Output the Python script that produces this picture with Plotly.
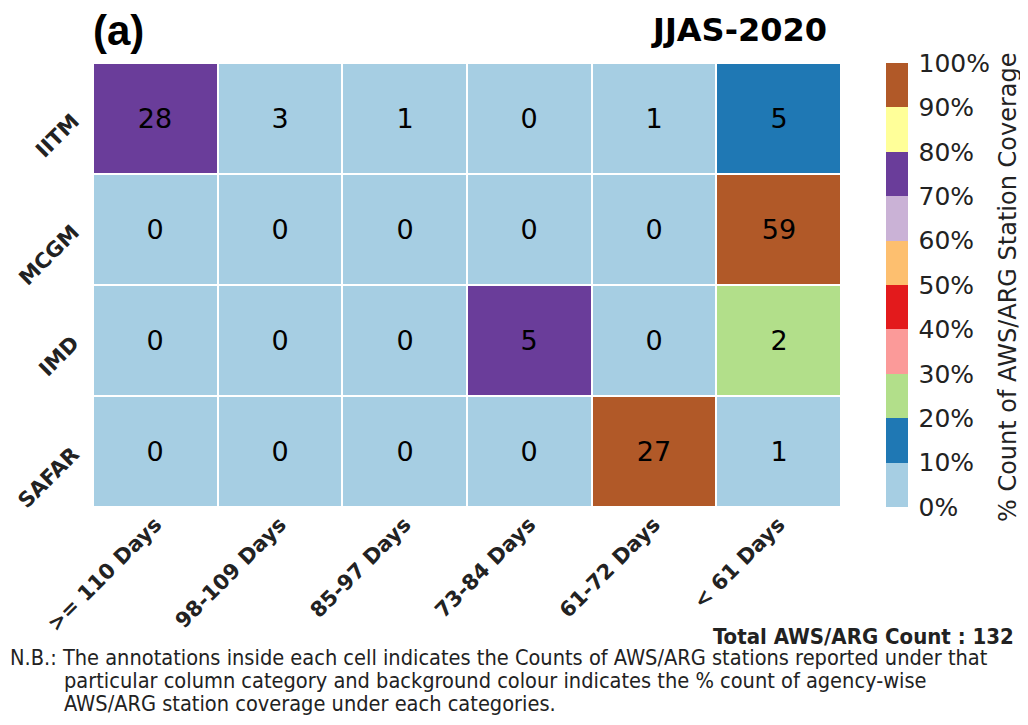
import plotly.graph_objects as go

agencies = ["IITM", "MCGM", "IMD", "SAFAR"]
day_bins = [">= 110 Days", "98-109 Days", "85-97 Days", "73-84 Days", "61-72 Days", "< 61 Days"]

iitm = [28, 3, 1, 0, 1, 5]
mcgm = [0, 0, 0, 0, 0, 59]
imd = [0, 0, 0, 5, 0, 2]
safar = [0, 0, 0, 0, 27, 1]
counts = [iitm, mcgm, imd, safar]

bin_colors = ["#a6cee3", "#1f78b4", "#b2df8a", "#fb9a99", "#e31a1c",
              "#fdbf6f", "#cab2d6", "#6a3d9a", "#ffff99", "#b15928"]
bar_ticks = [0, 10, 20, 30, 40, 50, 60, 70, 80, 90, 100]

note_lines = [
    "N.B.: The annotations inside each cell indicates the Counts of AWS/ARG stations reported under that",
    "particular column category and background colour indicates the % count of agency-wise",
    "AWS/ARG station coverage under each categories.",
]

# row-wise percentage coverage drives the colour
pct = [[100.0 * c / sum(row) for c in row] for row in counts]

# stepped colourscale, one flat band per 10%
scale = []
n = len(bin_colors)
for i, col in enumerate(bin_colors):
    scale.append([i / n, col])
    scale.append([(i + 1) / n, col])

W, H = 1028, 725
OFF = 8  # page body margin


def px(x):
    return (x - OFF) / W


def py(y):
    return 1 - (y - OFF) / H


fig = go.Figure(go.Heatmap(
    z=pct,
    x=day_bins,
    y=agencies,
    text=counts,
    texttemplate="%{text}",
    textfont=dict(family="DejaVu Sans", size=27, color="black"),
    colorscale=scale,
    zmin=0, zmax=100,
    xgap=2, ygap=2,
    hoverinfo="skip",
    colorbar=dict(
        x=px(886), xanchor="left", xpad=0,
        y=py(63), yanchor="top", ypad=0,
        len=444 / H, lenmode="fraction",
        thickness=22, outlinewidth=0,
        tickmode="array", tickvals=bar_ticks,
        ticktext=[f"{t}%" for t in bar_ticks],
        ticks="outside", ticklen=6, tickcolor="rgba(0,0,0,0)",
        tickfont=dict(family="DejaVu Sans", size=25, color="#222"),
    ),
))

note_y = [657, 680, 703]
note_x = [8, 62, 62]
annotations = [
    dict(text="<b>(a)</b>", x=px(91), y=py(30), xanchor="left", yanchor="middle",
         font=dict(family="Liberation Sans", size=42, color="black")),
    dict(text="<b>JJAS-2020</b>", x=px(829), y=py(30), xanchor="right", yanchor="middle",
         font=dict(family="DejaVu Sans", size=32, color="black")),
    dict(text="% Count of AWS/ARG Station Coverage", x=px(1008), y=py(287),
         xanchor="center", yanchor="middle", textangle=-90,
         font=dict(family="DejaVu Sans", size=24, color="#222")),
    dict(text="<b>Total AWS/ARG Count : 132</b>", x=px(1016), y=py(636),
         xanchor="right", yanchor="middle",
         font=dict(family="DejaVu Sans Condensed", size=22, color="#222")),
]
for line, lx, ly in zip(note_lines, note_x, note_y):
    annotations.append(dict(text=line, x=px(lx), y=py(ly), xanchor="left", yanchor="middle",
                            font=dict(family="DejaVu Sans Condensed", size=21.6, color="#222")))
for a in annotations:
    a.update(xref="paper", yref="paper", showarrow=False)

fig.update_layout(
    width=W, height=H,
    margin=dict(l=0, r=0, t=0, b=0, autoexpand=False),
    paper_bgcolor="white", plot_bgcolor="white",
    xaxis=dict(domain=[px(93), px(841)], tickangle=-45, showgrid=False, automargin=False,
               tickfont=dict(family="DejaVu Sans", size=21, color="#222", weight="bold"),
               ticks="", zeroline=False),
    yaxis=dict(domain=[py(507), py(63)], autorange="reversed", tickangle=-45,
               showgrid=False, ticks="", zeroline=False, automargin=False,
               ticklabelstandoff=19,
               tickfont=dict(family="DejaVu Sans", size=21, color="#222", weight="bold")),
    annotations=annotations,
)

fig.write_html("out.html")
